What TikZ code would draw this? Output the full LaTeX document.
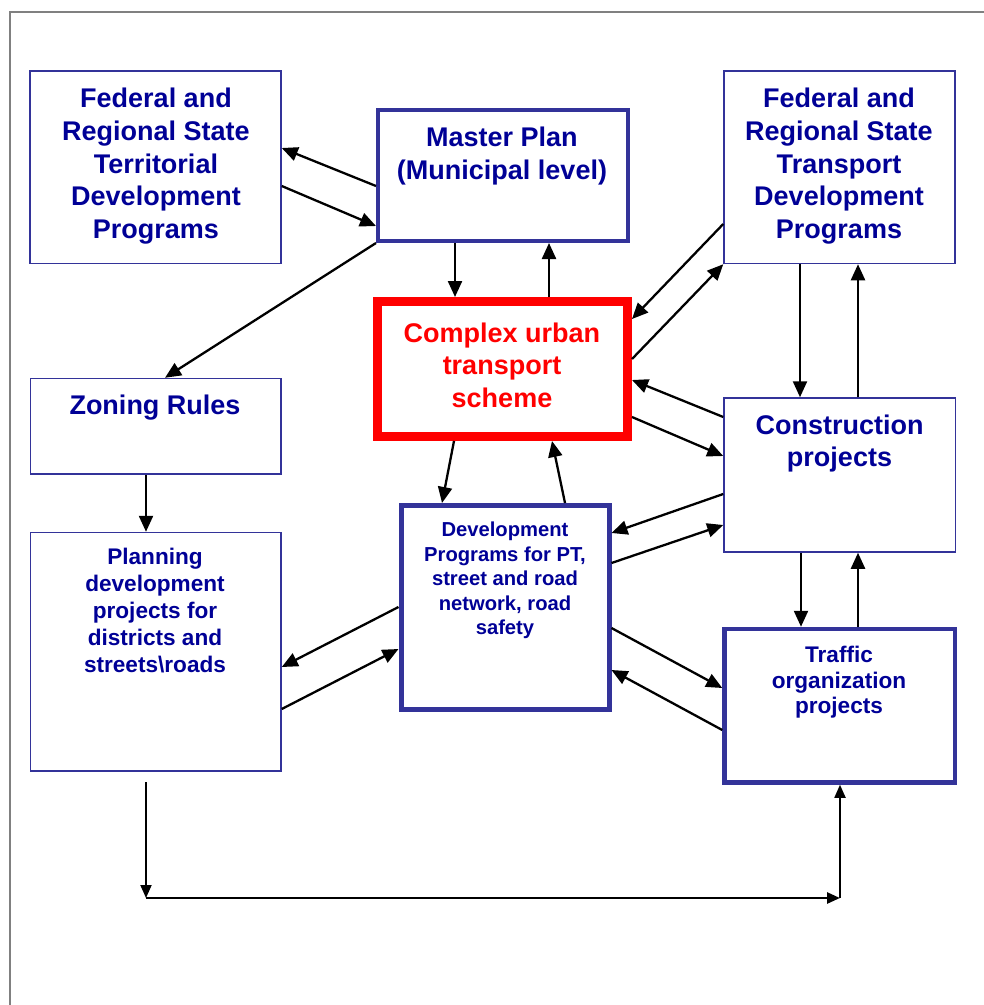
\documentclass[tikz,border=0pt]{standalone}
\usepackage{fontspec}
\setmainfont{Liberation Sans}
\usetikzlibrary{arrows.meta,calc}
\definecolor{boxc}{RGB}{51,51,153}
\definecolor{txtc}{RGB}{0,0,150}
\definecolor{redc}{RGB}{255,0,0}
\definecolor{framec}{RGB}{128,128,128}
\begin{document}
\begin{tikzpicture}[x=1pt,y=-1pt,
 thinbox/.style={draw=boxc,line width=1.5pt,rectangle,inner sep=0pt},
 thickbox/.style={draw=boxc,line width=4.5pt,rectangle,inner sep=0pt},
 redbox/.style={draw=redc,line width=9pt,rectangle,inner sep=0pt},
 big/.style={anchor=north,align=center,text=txtc,inner sep=0pt,font=\bfseries\fontsize{27}{32.7}\selectfont},
 mid/.style={anchor=north,align=center,text=txtc,inner sep=0pt,font=\bfseries\fontsize{22.6}{27}\selectfont},
 small/.style={anchor=north,align=center,text=txtc,inner sep=0pt,font=\bfseries\fontsize{20.2}{24.5}\selectfont},
 arr/.style={line width=2.3pt,-{Triangle[length=16pt,width=14pt]}},
 larr/.style={line width=1.8pt,-{Triangle[length=13pt,width=11pt]}}
]
\useasboundingbox (0,0) rectangle (984,1005);
\draw[framec,line width=2pt] (10,1010) -- (10,12) -- (990,12);

% boxes
\node[thinbox,minimum width=251pt,minimum height=192.5pt] (ft) at (155.5,167.25) {};
\node[thickbox,line width=4pt,minimum width=250pt,minimum height=131pt] (mp) at (503,175.5) {};
\node[thinbox,minimum width=231pt,minimum height=192.5pt] (ftr) at (839.5,167.25) {};
\node[redbox,minimum width=250.5pt,minimum height=135pt] (cx) at (502.25,369) {};
\node[thinbox,minimum width=250.5pt,minimum height=95.5pt] (zr) at (155.75,426.25) {};
\node[thinbox,minimum width=231.5pt,minimum height=154pt] (cp) at (839.75,475) {};
\node[thinbox,minimum width=250.5pt,minimum height=238.5pt] (pl) at (155.75,651.75) {};
\node[thickbox,line width=5pt,minimum width=208pt,minimum height=204pt] (dp) at (505,607.5) {};
\node[thickbox,minimum width=230.5pt,minimum height=153.5pt] (tr) at (839.75,705.75) {};

% texts
\node[big] (ftT) at (156,88) {Federal and\\Regional State\\Territorial\\Development\\Programs};
\node[big] (mpT) at (502,127) {Master Plan\\(Municipal level)};
\node[big] (ftrT) at (839,88) {Federal and\\Regional State\\Transport\\Development\\Programs};
\node[big,text=redc,font=\bfseries\fontsize{27}{32.5}\selectfont] (cxT) at (502,322.5) {Complex urban\\transport\\scheme};
\node[big] (zrT) at (155,395) {Zoning Rules};
\node[big,font=\bfseries\fontsize{27}{32}\selectfont] (cpT) at (839.5,415) {Construction\\projects};
\node[mid] (plT) at (155,548) {Planning\\development\\projects for\\districts and\\streets\textbackslash roads};
\node[small] (dpT) at (505,522) {Development\\Programs for PT,\\street and road\\network, road\\safety};
\node[mid,font=\bfseries\fontsize{22.6}{25.6}\selectfont] (trT) at (839,646) {Traffic\\organization\\projects};

% connectors
\draw[arr] (mp.west |- 0,186) -- (ft.east |- 0,148);
\draw[arr] (ft.east |- 0,186) -- (mp.west |- 0,226);
\draw[arr] (mp.south west) -- (zr.north -| 165,0);
\draw[arr] (mp.south -| 455,0) -- (cx.north -| 455,0);
\draw[arr] (cx.north -| 549,0) -- (mp.south -| 549,0);
\draw[arr] (ftr.west |- 0,224) -- (cx.east |- 0,319);
\draw[arr] (cx.east |- 0,359) -- (ftr.south west);
\draw[arr] (ftr.south -| 800,0) -- (cp.north -| 800,0);
\draw[arr] (cp.north -| 858,0) -- (ftr.south -| 858,0);
\draw[arr] (cp.west |- 0,417) -- (cx.east |- 0,380);
\draw[arr] (cx.east |- 0,417) -- (cp.west |- 0,456);
\draw[arr] (cx.south -| 454,0) -- (dp.north -| 442,0);
\draw[arr] (dp.north -| 565,0) -- (cx.south -| 552,0);
\draw[arr] (cp.west |- 0,494) -- (dp.east |- 0,533);
\draw[arr] (dp.east |- 0,563) -- (cp.west |- 0,525);
\draw[arr] (dp.east |- 0,628) -- (tr.west |- 0,688);
\draw[arr] (tr.west |- 0,730) -- (dp.east |- 0,670);
\draw[arr] (cp.south -| 801,0) -- (tr.north -| 801,0);
\draw[arr] (tr.north -| 858,0) -- (cp.south -| 858,0);
\draw[arr] (dp.west |- 0,607) -- (pl.east |- 0,667);
\draw[arr] (pl.east |- 0,709) -- (dp.west |- 0,649);
\draw[arr] (zr.south -| 146,0) -- (pl.north -| 146,0);
\coordinate (p0) at (146,782);
\coordinate (c1) at (146,898);
\coordinate (c2) at (840,898);
\draw[larr] (p0) -- (c1);
\draw[larr,line width=2.6pt] (c1) -- (c2);
\draw[larr] (c2) -- (tr.south -| 840,0);
\end{tikzpicture}
\end{document}
